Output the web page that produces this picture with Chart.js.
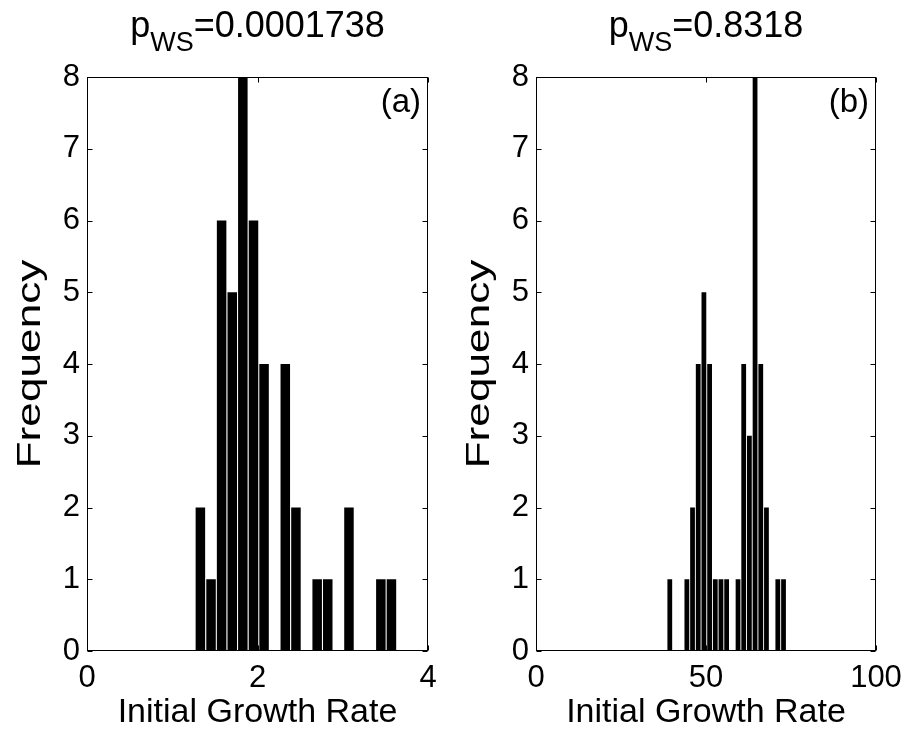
<!DOCTYPE html>
<html>
<head>
<meta charset="utf-8">
<title>Initial Growth Rate histograms</title>
<script src="https://cdn.jsdelivr.net/npm/chart.js@4.4.1/dist/chart.umd.min.js"></script>
<style>
  html, body { margin: 0; padding: 0; background: #fff; }
  #wrap { position: relative; width: 912px; height: 732px; }
  canvas { position: absolute; top: 0; }
</style>
</head>
<body>
<div id="wrap">
  <canvas id="panel-a" width="456" height="732" style="left:0"></canvas>
  <canvas id="panel-b" width="456" height="732" style="left:456px"></canvas>
</div>
<script>
// panel (a): bin centres and counts
const binsA = [1.330, 1.455, 1.579, 1.704, 1.828, 1.953, 2.077, 2.202, 2.326, 2.451,
               2.575, 2.700, 2.824, 2.949, 3.073, 3.198, 3.322, 3.447, 3.571];
const countsA = [2, 1, 6, 5, 8, 6, 4, 0, 4, 2, 0, 1, 1, 0, 2, 0, 0, 1, 1];

// panel (b)
const binsB = [39.35, 41.02, 42.70, 44.37, 46.04, 47.71, 49.38, 51.06, 52.73, 54.40,
               56.07, 57.75, 59.42, 61.09, 62.76, 64.43, 66.11, 67.78, 69.45, 71.12, 72.80];
const countsB = [1, 0, 0, 1, 2, 4, 5, 4, 1, 1, 1, 0, 1, 4, 3, 8, 4, 2, 0, 1, 1];

// tick labels
const xTicksA = [0, 2, 4];
const xTicksB = [0, 50, 100];
const yTicks = [0, 1, 2, 3, 4, 5, 6, 7, 8];

// titles: p with subscript WS
const titleA = { base: 'p', sub: 'WS', rest: '=0.0001738' };
const titleB = { base: 'p', sub: 'WS', rest: '=0.8318' };

const family = "'Liberation Sans', Arial, Helvetica, sans-serif";
Chart.defaults.color = '#000';
Chart.defaults.font.family = family;

// box, inward ticks, y label, panel tag and title with subscript
const figDecor = {
  id: 'figDecor',
  afterDatasetsDraw(chart, args, opts) {
    const { ctx, chartArea: a, scales: { x, y } } = chart;
    ctx.save();
    ctx.strokeStyle = '#000';
    ctx.lineWidth = 1;
    const L = Math.round(a.left) + 0.5, R = Math.round(a.right) - 0.5;
    const T = Math.round(a.top) + 0.5, B = Math.round(a.bottom) - 0.5;
    ctx.strokeRect(L, T, R - L, B - T);

    ctx.beginPath();
    yTicks.forEach(v => {
      const py = Math.round(y.getPixelForValue(v)) + 0.5;
      ctx.moveTo(L, py); ctx.lineTo(L + 5, py);
      ctx.moveTo(R, py); ctx.lineTo(R - 5, py);
    });
    opts.xTicks.forEach(v => {
      const px = Math.round(x.getPixelForValue(v)) + 0.5;
      ctx.moveTo(px, B); ctx.lineTo(px, B - 5);
      ctx.moveTo(px, T); ctx.lineTo(px, T + 5);
    });
    ctx.stroke();

    ctx.fillStyle = '#000';

    // y label, a bit stretched along its baseline like the original
    ctx.save();
    ctx.translate(opts.yLabelX, (a.top + a.bottom) / 2);
    ctx.rotate(-Math.PI / 2);
    ctx.scale(1.3, 1);
    ctx.font = '34px ' + family;
    ctx.textAlign = 'center';
    ctx.textBaseline = 'middle';
    ctx.fillText('Frequency', 0, 0);
    ctx.restore();

    // panel tag
    ctx.font = '33px ' + family;
    ctx.textAlign = 'right';
    ctx.textBaseline = 'alphabetic';
    ctx.fillText(opts.tag, a.right - 7, a.top + 35);

    // title
    const t = opts.title;
    const mainFont = '36px ' + family, subFont = '27px ' + family;
    ctx.font = mainFont;
    const wBase = ctx.measureText(t.base).width;
    const wRest = ctx.measureText(t.rest).width;
    ctx.font = subFont;
    const wSub = ctx.measureText(t.sub).width;
    let cx = (a.left + a.right) / 2 - (wBase + wSub + wRest) / 2;
    ctx.textAlign = 'left';
    ctx.font = mainFont;
    ctx.fillText(t.base, cx, 37);
    cx += wBase;
    ctx.font = subFont;
    ctx.fillText(t.sub, cx, 51);
    cx += wSub;
    ctx.font = mainFont;
    ctx.fillText(t.rest, cx, 37);
    ctx.restore();
  }
};

function makePanel(id, bins, counts, xMax, xTicks, title, tag, yAxisW, padRight, yLabelX, barPct) {
  return new Chart(document.getElementById(id), {
    type: 'bar',
    data: {
      datasets: [{
        data: bins.map((b, i) => ({ x: b, y: counts[i] })),
        backgroundColor: '#000',
        borderWidth: 0,
        inflateAmount: 0,
        categoryPercentage: 1,
        barPercentage: barPct
      }]
    },
    options: {
      responsive: false,
      animation: false,
      devicePixelRatio: 1,
      layout: { padding: { top: 77, right: padRight, left: 0, bottom: 0 } },
      plugins: {
        legend: { display: false },
        tooltip: { enabled: false },
        figDecor: { xTicks: xTicks, title: title, tag: tag, yLabelX: yLabelX }
      },
      scales: {
        x: {
          type: 'linear',
          min: 0,
          max: xMax,
          offset: false,
          grid: { display: false, offset: false, drawTicks: false },
          border: { display: false },
          afterBuildTicks: s => { s.ticks = xTicks.map(v => ({ value: v })); },
          afterFit: s => { s.height = 81; },
          ticks: { font: { size: 31 }, padding: 9, maxRotation: 0, autoSkip: false },
          title: {
            display: true,
            text: 'Initial Growth Rate',
            font: { size: 34, lineHeight: 1 },
            padding: { top: 0, bottom: 2 }
          }
        },
        y: {
          min: 0,
          max: 8,
          grid: { display: false, drawTicks: false },
          border: { display: false },
          afterBuildTicks: s => { s.ticks = yTicks.map(v => ({ value: v })); },
          afterFit: s => { s.width = yAxisW; },
          ticks: { font: { size: 31 }, padding: 7 },
          title: { display: false }
        }
      }
    },
    plugins: [figDecor]
  });
}

makePanel('panel-a', binsA, countsA, 4, xTicksA, titleA, '(a)', 87, 28, 31, 0.9);
makePanel('panel-b', binsB, countsB, 100, xTicksB, titleB, '(b)', 80, 36, 24, 0.84);
</script>
</body>
</html>
